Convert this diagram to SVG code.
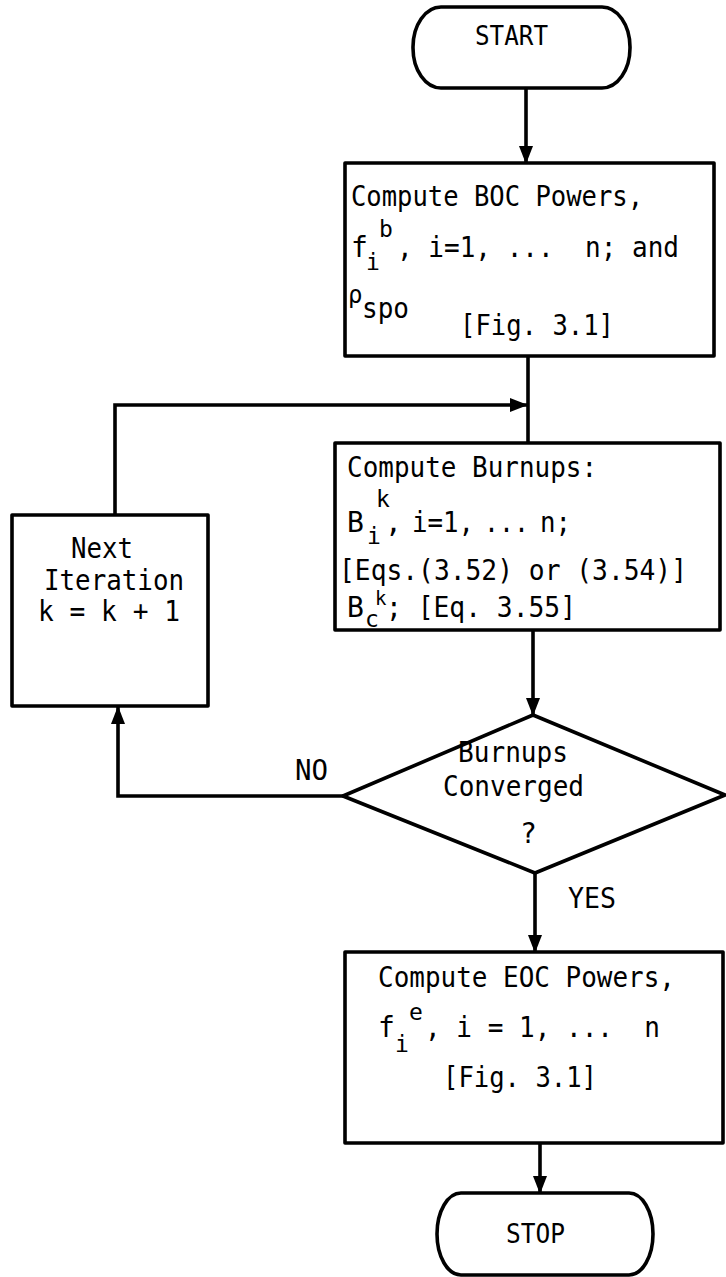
<svg xmlns="http://www.w3.org/2000/svg" width="726" height="1277" viewBox="0 0 726 1277">
  <defs>
    <style>
      .shape { fill: #ffffff; stroke: #000000; stroke-width: 3.6; stroke-linejoin: round; }
      .wire { fill: none; stroke: #000000; stroke-width: 3.6; }
      .t { font-family: "DejaVu Sans Mono", "Liberation Mono", monospace; font-size: 28px; fill: #000000; }
      .term { font-family: "DejaVu Sans Mono", "Liberation Mono", monospace; font-size: 27px; fill: #000000; }
      .sup { font-size: 23px; }
      .supsm { font-size: 19px; }
      .rho { font-size: 24px; }
    </style>
    <marker id="arrow" viewBox="0 0 18 14" refX="17" refY="7" markerWidth="18" markerHeight="14" markerUnits="userSpaceOnUse" orient="auto">
      <path d="M0,0 L18,7 L0,14 z" fill="#000000"/>
    </marker>
  </defs>

  <rect width="726" height="1277" fill="#ffffff"/>

  <!-- connectors -->
  <g id="connectors">
    <path class="wire" d="M526,88 V163" marker-end="url(#arrow)"/>
    <path class="wire" d="M528,356 V443"/>
    <path class="wire" d="M115,515 V405 H527" marker-end="url(#arrow)"/>
    <path class="wire" d="M533,630 V715" marker-end="url(#arrow)"/>
    <path class="wire" d="M343,796 H118 V707" marker-end="url(#arrow)"/>
    <path class="wire" d="M535,873 V952" marker-end="url(#arrow)"/>
    <path class="wire" d="M540,1143 V1193" marker-end="url(#arrow)"/>
    <text class="t" x="295" y="780" textLength="33" lengthAdjust="spacingAndGlyphs">NO</text>
    <text class="t" x="568" y="908" textLength="48" lengthAdjust="spacingAndGlyphs">YES</text>
  </g>

  <!-- start terminal -->
  <g id="start">
    <rect class="shape" x="413" y="7" width="217" height="81" rx="28" ry="40"/>
    <text class="term" x="475" y="45" textLength="73" lengthAdjust="spacingAndGlyphs">START</text>
  </g>

  <!-- beginning-of-cycle powers -->
  <g id="boc-powers">
    <rect class="shape" x="345" y="163" width="369" height="193"/>
    <text class="t" x="351" y="206" textLength="292" lengthAdjust="spacingAndGlyphs">Compute BOC Powers,</text>
    <text class="t" x="351" y="257">f</text>
    <text class="t sup" x="366" y="270">i</text>
    <text class="t sup" x="379" y="237">b</text>
    <text class="t" x="397" y="257" xml:space="preserve" textLength="282" lengthAdjust="spacingAndGlyphs">, i=1, ...  n; and</text>
    <text class="t rho" x="348" y="303">ρ</text>
    <text class="t" x="362" y="318" textLength="47" lengthAdjust="spacingAndGlyphs">spo</text>
    <text class="t" x="460" y="335" textLength="154" lengthAdjust="spacingAndGlyphs">[Fig. 3.1]</text>
  </g>

  <!-- burnup computation -->
  <g id="burnups">
    <rect class="shape" x="335" y="443" width="385" height="187"/>
    <text class="t" x="347" y="477" textLength="250" lengthAdjust="spacingAndGlyphs">Compute Burnups:</text>
    <text class="t" x="347" y="532">B</text>
    <text class="t sup" x="367" y="544">i</text>
    <text class="t sup" x="376" y="507">k</text>
    <text class="t" x="385" y="532">,</text>
    <text class="t" x="412" y="532" textLength="62" lengthAdjust="spacingAndGlyphs">i=1,</text>
    <text class="t" x="484" y="532" textLength="45" lengthAdjust="spacingAndGlyphs">...</text>
    <text class="t" x="540" y="532" textLength="31" lengthAdjust="spacingAndGlyphs">n;</text>
    <text class="t" x="339" y="580" textLength="348" lengthAdjust="spacingAndGlyphs">[Eqs.(3.52) or (3.54)]</text>
    <text class="t" x="347" y="617">B</text>
    <text class="t sup" x="365" y="627">c</text>
    <text class="t supsm" x="375" y="605">k</text>
    <text class="t" x="386" y="617" xml:space="preserve" textLength="190" lengthAdjust="spacingAndGlyphs">; [Eq. 3.55]</text>
  </g>

  <!-- iteration counter -->
  <g id="next-iteration">
    <rect class="shape" x="12" y="515" width="196" height="191"/>
    <text class="t" x="71" y="558" textLength="62" lengthAdjust="spacingAndGlyphs">Next</text>
    <text class="t" x="44" y="590" textLength="140" lengthAdjust="spacingAndGlyphs">Iteration</text>
    <text class="t" x="38" y="621" textLength="142" lengthAdjust="spacingAndGlyphs">k = k + 1</text>
  </g>

  <!-- convergence test -->
  <g id="converged">
    <polygon class="shape" points="533,715 725,795 535,873 343,796"/>
    <text class="t" x="458" y="762" textLength="110" lengthAdjust="spacingAndGlyphs">Burnups</text>
    <text class="t" x="443" y="796" textLength="141" lengthAdjust="spacingAndGlyphs">Converged</text>
    <text class="t" x="520" y="843">?</text>
  </g>

  <!-- end-of-cycle powers -->
  <g id="eoc-powers">
    <rect class="shape" x="345" y="952" width="378" height="191"/>
    <text class="t" x="378" y="987" textLength="297" lengthAdjust="spacingAndGlyphs">Compute EOC Powers,</text>
    <text class="t" x="378" y="1037">f</text>
    <text class="t sup" x="395" y="1052">i</text>
    <text class="t sup" x="409" y="1020">e</text>
    <text class="t" x="425" y="1037" xml:space="preserve" textLength="235" lengthAdjust="spacingAndGlyphs">, i = 1, ...  n</text>
    <text class="t" x="443" y="1087" textLength="154" lengthAdjust="spacingAndGlyphs">[Fig. 3.1]</text>
  </g>

  <!-- stop terminal -->
  <g id="stop">
    <rect class="shape" x="437" y="1193" width="216" height="82" rx="24" ry="41"/>
    <text class="term" x="506" y="1243" textLength="59" lengthAdjust="spacingAndGlyphs">STOP</text>
  </g>
</svg>
